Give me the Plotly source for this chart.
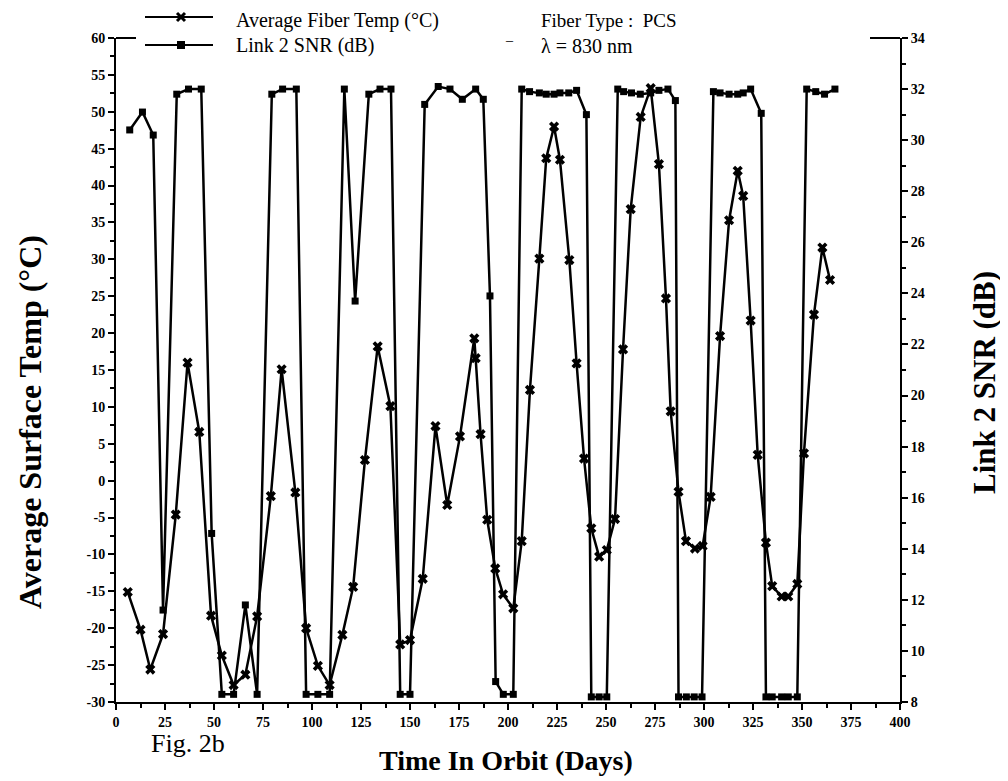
import plotly.graph_objects as go

# Average fiber temperature (deg C) vs time in orbit
temp_days = [6, 12.5, 17.5, 24, 30.5, 36.5, 42.5, 48.5, 54, 60, 66, 72, 79, 84.5, 91.5,
             97, 103, 109, 115.5, 121, 127, 133.5, 140, 145, 150, 156.5, 163, 169, 175.5,
             182.8, 183.5, 186, 189.4, 193.5, 197.5, 202.7, 207, 211.2, 216, 219.5, 223.5,
             226.5, 231.3, 235, 238.8, 242.5, 246.5, 250.4, 254.6, 258.7, 262.6, 267.7,
             272.8, 277, 280.6, 283, 287, 290.8, 295.4, 299.3, 303.4, 308.2, 312.8, 317.2,
             320, 323.8, 327.4, 331.6, 334.8, 339.6, 343, 347.6, 351, 356.1, 360.4, 364.3]
temp_vals = [-15.1, -20.2, -25.6, -20.8, -4.6, 16, 6.6, -18.3, -23.7, -27.7, -26.3, -18.4,
             -2.1, 15.1, -1.6, -20, -25.1, -27.7, -20.9, -14.4, 2.8, 18.2, 10.1, -22.2, -21.6,
             -13.3, 7.4, -3.3, 6, 19.3, 16.6, 6.3, -5.3, -11.9, -15.4, -17.3, -8.2, 12.3,
             30.1, 43.7, 48, 43.5, 29.9, 15.9, 3, -6.45, -10.3, -9.4, -5.2, 17.8, 36.8, 49.3,
             53.2, 42.9, 24.7, 9.4, -1.5, -8.2, -9.2, -8.85, -2.2, 19.6, 35.3, 42, 38.6,
             21.7, 3.5, -8.4, -14.3, -15.7, -15.7, -14, 3.7, 22.5, 31.6, 27.2]

# Link 2 SNR (dB) vs time in orbit
snr_days = [7, 13.5, 19, 24, 31, 37, 43.5, 48.8, 54, 60, 66, 72, 79.5, 85, 92, 97, 103,
            109, 116.5, 122, 129, 134.7, 140.3, 145, 150, 157.5, 164.4, 170.4, 176.7, 183.5,
            187.4, 190.8, 193.7, 197.6, 202.7, 207, 211, 216, 219.5, 223.5, 226.5, 231, 235,
            240, 242.5, 246.5, 250.4, 256, 259, 263, 267.5, 272.8, 277, 281.6, 285.4, 287,
            291, 295, 299, 304.8, 308.2, 312.8, 317.2, 320, 323.8, 329.2, 331.6, 334.8,
            339.6, 343, 347.6, 352.4, 357, 361.5, 366.8]
snr_vals = [30.4, 31.1, 30.2, 11.6, 31.8, 32.0, 32.0, 14.6, 8.3, 8.3, 11.8, 8.3, 31.8, 32.0,
            32.0, 8.3, 8.3, 8.3, 32.0, 23.7, 31.8, 32.0, 32.0, 8.3, 8.3, 31.4, 32.1, 32.0,
            31.6, 32.0, 31.6, 23.9, 8.8, 8.3, 8.3, 32.0, 31.9, 31.85, 31.8, 31.8, 31.85,
            31.85, 31.95, 31.0, 8.2, 8.2, 8.2, 32.0, 31.9, 31.85, 31.8, 31.85, 31.95, 32.0,
            31.55, 8.2, 8.2, 8.2, 8.2, 31.9, 31.85, 31.8, 31.8, 31.85, 32.0, 31.05, 8.2, 8.2,
            8.2, 8.2, 8.2, 32.0, 31.9, 31.8, 32.0]

temp_ticks = list(range(-30, 65, 5))
snr_ticks = list(range(8, 36, 2))
day_ticks = list(range(0, 425, 25))

serif = "Liberation Serif"
# page has an 8px body margin, so the figure is a bit smaller than the window
W, H = 1000, 773
L, R, T, B = 108, 108, 30, 79

# positions below are read in window pixels of the reference
def px(x):
    return (x - 116) / (900 - 116)

def py(y):
    return (702 - y) / (702 - 38)

fig = go.Figure()
fig.add_trace(go.Scatter(x=temp_days, y=temp_vals, mode='lines+markers',
                         name='Average Fiber Temp (°C)',
                         line=dict(color='black', width=2.5),
                         marker=dict(symbol='x', size=9, color='black')))
fig.add_trace(go.Scatter(x=snr_days, y=snr_vals, mode='lines+markers', yaxis='y2',
                         name='Link 2 SNR (dB)',
                         line=dict(color='black', width=2.5),
                         marker=dict(symbol='square', size=7, color='black')))

tickfont = dict(family=serif, size=14, color='black', weight='bold')
fig.update_layout(
    width=W, height=H,
    margin=dict(l=L, r=R, t=T, b=B),
    paper_bgcolor='white', plot_bgcolor='white',
    showlegend=False,
    xaxis=dict(range=[0, 400], tickvals=day_ticks, ticktext=[str(v) for v in day_ticks],
               showgrid=False, zeroline=False, showline=True, linecolor='black', linewidth=2,
               ticks='outside', ticklen=6, tickwidth=2, tickcolor='black', tickfont=tickfont,
               minor=dict(ticks='outside', ticklen=4, tickwidth=1.5, dtick=12.5, tickcolor='black')),
    yaxis=dict(range=[-30, 60], tickvals=temp_ticks, ticktext=[str(v) for v in temp_ticks],
               showgrid=False, zeroline=False, showline=True, linecolor='black', linewidth=2,
               ticks='outside', ticklen=6, tickwidth=2, tickcolor='black', tickfont=tickfont,
               minor=dict(ticks='outside', ticklen=4, tickwidth=1.5, dtick=2.5, tickcolor='black')),
    yaxis2=dict(range=[8, 34], tickvals=snr_ticks, ticktext=[str(v) for v in snr_ticks],
                overlaying='y', side='right',
                showgrid=False, zeroline=False, showline=True, linecolor='black', linewidth=2,
                ticks='outside', ticklen=6, tickwidth=2, tickcolor='black', tickfont=tickfont,
                minor=dict(ticks='outside', ticklen=4, tickwidth=1.5, dtick=1, tickcolor='black')),
)

# corner caps at the top of both axes
fig.add_shape(type='line', xref='paper', yref='paper', x0=0, x1=px(136), y0=1, y1=1,
              line=dict(color='black', width=2))
fig.add_shape(type='line', xref='paper', yref='paper', x0=px(870), x1=1, y0=1, y1=1,
              line=dict(color='black', width=2))

# hand drawn legend: line sample plus marker drawn in pixel units
for yy in [17, 45]:
    fig.add_shape(type='line', xref='paper', yref='paper', x0=px(145), x1=px(213),
                  y0=py(yy), y1=py(yy), line=dict(color='black', width=2))
fig.add_shape(type='path', xref='paper', yref='paper', xsizemode='pixel', ysizemode='pixel',
              xanchor=px(181), yanchor=py(17), path='M-4,-4L4,4M-4,4L4,-4',
              line=dict(color='black', width=3))
fig.add_shape(type='rect', xref='paper', yref='paper', xsizemode='pixel', ysizemode='pixel',
              xanchor=px(181), yanchor=py(45), x0=-4, x1=4, y0=-4, y1=4,
              fillcolor='black', line=dict(width=0))

def label(text, x, y, size, bold=False, xanchor='left', angle=0, family=serif):
    fig.add_annotation(x=px(x), y=py(y), xref='paper', yref='paper', text=text,
                       showarrow=False, xanchor=xanchor, yanchor='middle', textangle=angle,
                       font=dict(family=family, size=size, color='black',
                                 weight='bold' if bold else 'normal'))

label('Average Fiber Temp (°C)', 234, 20, 20)
label('Link 2 SNR (dB)', 234, 45, 20)
label('–', 503, 40, 14)
label('Fiber Type :  PCS', 539, 21, 19)
label('λ = 830 nm', 539, 46, 20)
label('Fig. 2b', 149, 744, 26)
label('Time In Orbit (Days)', 506, 760, 28, bold=True, xanchor='center')
label('Average Surface Temp (°C)', 30, 422, 32, bold=True, xanchor='center', angle=-90)
label('Link 2 SNR (dB)', 984, 383, 31, bold=True, xanchor='center', angle=-90)

fig.write_html("out.html")
